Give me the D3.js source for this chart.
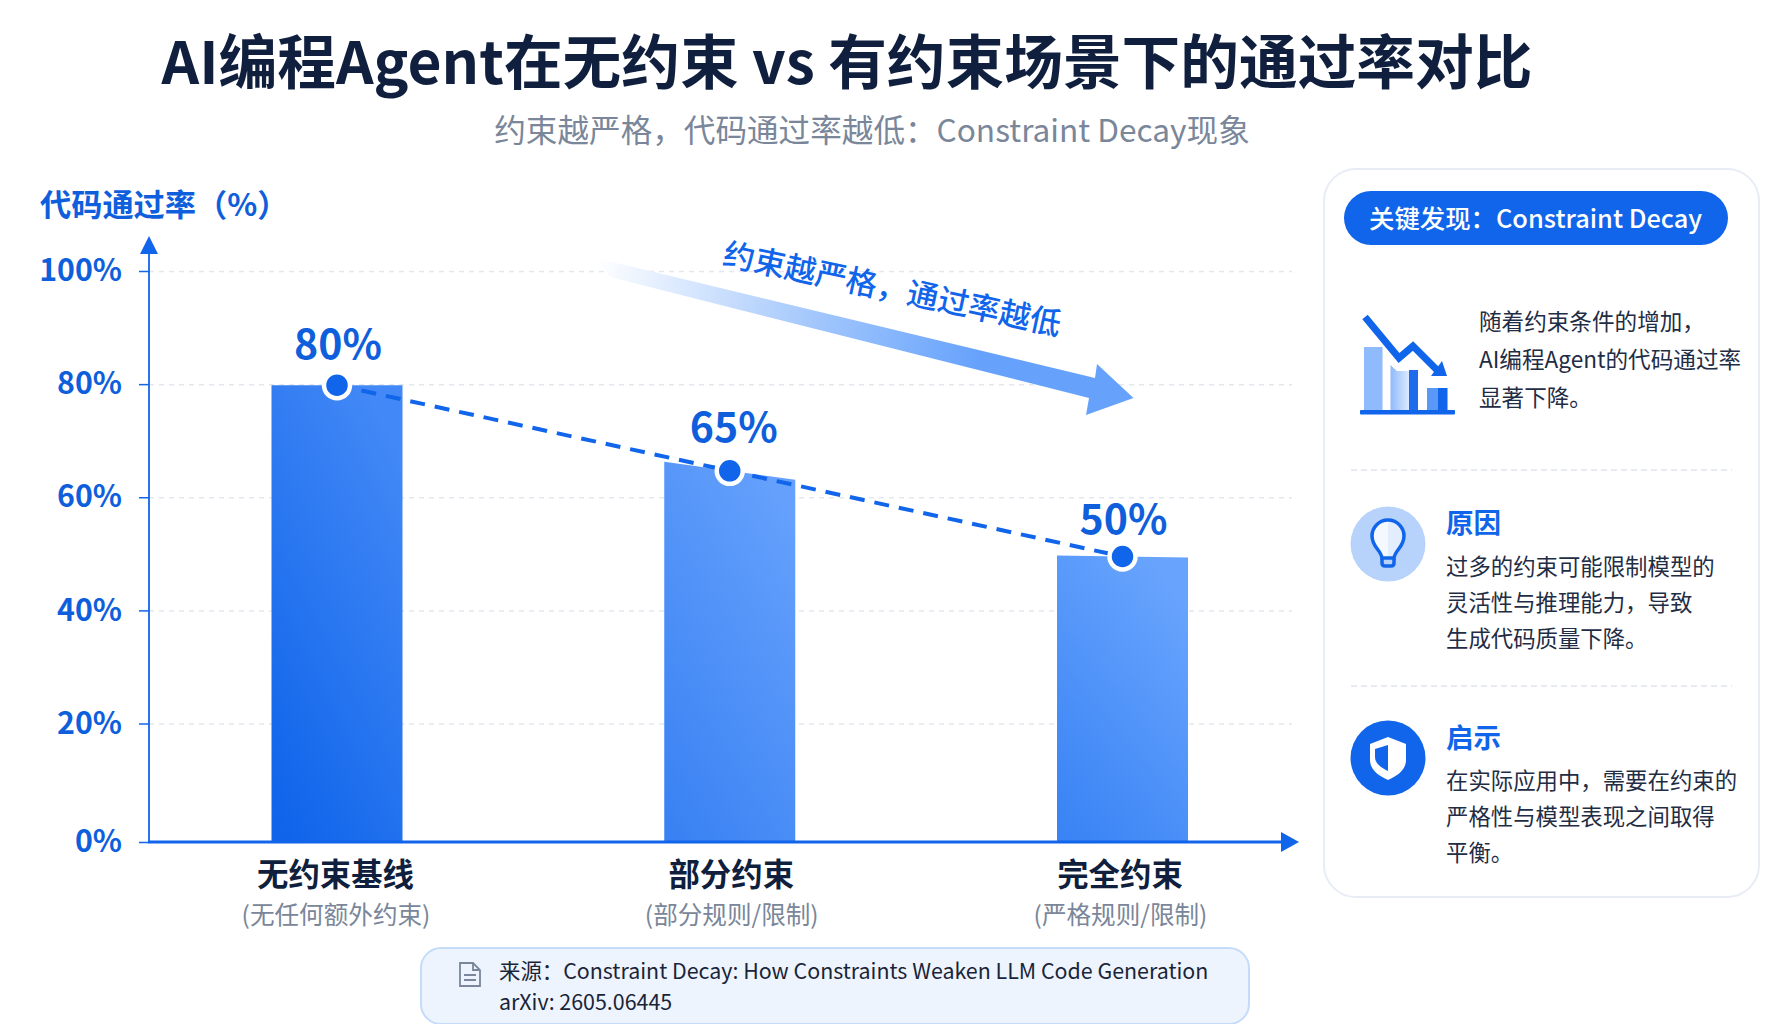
<!DOCTYPE html>
<html lang="zh">
<head>
<meta charset="utf-8">
<title>AI编程Agent通过率对比</title>
<script src="https://cdn.jsdelivr.net/npm/d3@7/dist/d3.min.js"></script>
<style>
  html, body { margin: 0; padding: 0; background: #fff; }
  svg { display: block; }
  text { font-family: "Noto Sans CJK SC", "Noto Sans", sans-serif; }
</style>
</head>
<body>
<svg id="chart" width="1792" height="1024"></svg>
<script>
// Chart data
const categories = ["无约束基线", "部分约束", "完全约束"];
const categoryNotes = ["(无任何额外约束)", "(部分规则/限制)", "(严格规则/限制)"];
const passRates = [80, 65, 50];
const yTicks = [0, 20, 40, 60, 80, 100];

// Copy
const titleText = "AI编程Agent在无约束 vs 有约束场景下的通过率对比";
const subtitleText = "约束越严格，代码通过率越低：Constraint Decay现象";
const yAxisTitle = "代码通过率（%）";
const trendText = "约束越严格，通过率越低";
const panelHeader = "关键发现：Constraint Decay";
const findingLines = ["随着约束条件的增加，", "AI编程Agent的代码通过率", "显著下降。"];
const causeHeading = "原因";
const causeLines = ["过多的约束可能限制模型的", "灵活性与推理能力，导致", "生成代码质量下降。"];
const adviceHeading = "启示";
const adviceLines = ["在实际应用中，需要在约束的", "严格性与模型表现之间取得", "平衡。"];
const sourceLines = ["来源：Constraint Decay: How Constraints Weaken LLM Code Generation", "arXiv: 2605.06445"];

// Palette
const BLUE = "#1065ea", BLUE_TEXT = "#0f5fdc", NAVY = "#0f1f3d", GREY = "#7a8699", BODY = "#1f2d45";

const svg = d3.select("#chart");
const defs = svg.append("defs");

// Bar fills run from a stronger foot to a lighter head; the fill weakens with each step.
const barStops = [["#0f64ea", "#4288f6"], ["#3a82f3", "#64a0fc"], ["#3a84f5", "#68a4fd"]];
barStops.forEach((pair, i) => {
  const g = defs.append("linearGradient").attr("id", `bar${i}`)
    .attr("x1", 0.15).attr("y1", 1).attr("x2", 0.7).attr("y2", 0);
  g.append("stop").attr("offset", 0).attr("stop-color", pair[0]);
  g.append("stop").attr("offset", 1).attr("stop-color", pair[1]);
});
const trendGrad = defs.append("linearGradient").attr("id", "trendFill")
  .attr("gradientUnits", "userSpaceOnUse")
  .attr("x1", 596).attr("y1", 262).attr("x2", 980).attr("y2", 355);
trendGrad.append("stop").attr("offset", 0).attr("stop-color", "#ffffff");
trendGrad.append("stop").attr("offset", 0.55).attr("stop-color", "#a6c9fc");
trendGrad.append("stop").attr("offset", 1).attr("stop-color", "#66a2fc");
const iconGrad = defs.append("linearGradient").attr("id", "iconBar");
iconGrad.append("stop").attr("offset", 0).attr("stop-color", "#8fbafc");
iconGrad.append("stop").attr("offset", 1).attr("stop-color", "#dceafe");

// Scales: value scale for the marks, and an axis scale whose lowest band is a little taller
const plotLeft = 149, plotRight = 1292, baseY = 842, topY = 271, barWidth = 131;
const x = d3.scalePoint().domain(categories).range([337, 1122.5]);
const y = d3.scaleLinear().domain([0, 100]).range([baseY, topY]);
const axisY = d3.scaleLinear().domain([0, 20, 100]).range([baseY, 723.5, topY]);

// Headings
svg.append("text").attr("x", 847).attr("y", 84).attr("text-anchor", "middle")
  .attr("font-size", 58.7).attr("font-weight", 700).attr("fill", NAVY).text(titleText);
svg.append("text").attr("x", 872).attr("y", 142).attr("text-anchor", "middle")
  .attr("font-size", 31.6).attr("font-weight", 400).attr("fill", GREY).text(subtitleText);
svg.append("text").attr("x", 40).attr("y", 216)
  .attr("font-size", 31.2).attr("font-weight", 700).attr("fill", BLUE_TEXT).text(yAxisTitle);

// Horizontal grid
const grid = svg.append("g").attr("transform", `translate(${plotLeft},0)`)
  .call(d3.axisRight(axisY).tickValues(yTicks.filter(v => v > 0)).tickSize(plotRight - plotLeft).tickFormat(""));
grid.select(".domain").remove();
grid.selectAll("line").attr("stroke", "#e3e7ee").attr("stroke-width", 1.5).attr("stroke-dasharray", "5 5");

// Bars; the head of each bar sits slightly off level
const topTilt = [0, 18, 2];
svg.append("g").selectAll("path").data(passRates).join("path")
  .attr("fill", (d, i) => `url(#bar${i})`)
  .attr("d", (d, i) => {
    const c = x(categories[i]), t = y(d), h = topTilt[i] / 2;
    return `M${c - barWidth / 2},${baseY}V${t - h}L${c + barWidth / 2},${t + h}V${baseY}Z`;
  });

// Y axis with arrowhead
const yAxis = svg.append("g").attr("transform", `translate(${plotLeft},0)`)
  .call(d3.axisLeft(axisY).tickValues(yTicks).tickSize(10).tickPadding(17).tickFormat(d => `${d}%`));
yAxis.select(".domain").remove();
yAxis.selectAll("line").attr("stroke", BLUE).attr("stroke-width", 1.5);
yAxis.selectAll("text").attr("font-size", 30.3).attr("font-weight", 600).attr("fill", BLUE_TEXT)
  .style("font-family", '"Noto Sans CJK SC", sans-serif');
svg.append("line").attr("x1", plotLeft).attr("x2", plotLeft).attr("y1", baseY).attr("y2", 250)
  .attr("stroke", BLUE).attr("stroke-width", 1.8);
svg.append("path").attr("d", "M149,236L158,254H140Z").attr("fill", BLUE);

// X axis with arrowhead and two-line category labels
const xAxis = svg.append("g").attr("transform", `translate(0,${baseY})`)
  .call(d3.axisBottom(x).tickSize(0).tickPadding(21.5));
xAxis.select(".domain").remove();
const labelNudge = [-2, 1, -3];
xAxis.selectAll("text").attr("font-size", 31.4).attr("font-weight", 700).attr("fill", NAVY)
  .attr("dx", (d, i) => labelNudge[i])
  .style("font-family", '"Noto Sans CJK SC", sans-serif');
svg.append("line").attr("x1", plotLeft - 1).attr("x2", 1284).attr("y1", baseY).attr("y2", baseY)
  .attr("stroke", BLUE).attr("stroke-width", 3);
svg.append("path").attr("d", "M1299,842L1281,832V852Z").attr("fill", BLUE);
svg.append("g").selectAll("text").data(categoryNotes).join("text")
  .attr("x", (d, i) => x(categories[i]) + labelNudge[i] + 1).attr("y", 924)
  .attr("text-anchor", "middle").attr("font-size", 24.6).attr("fill", GREY).text(d => d);

// Dashed trend line through the bar heads, with markers and value labels
const trendLine = d3.line().x((d, i) => x(categories[i])).y(d => y(d));
svg.append("path").attr("d", trendLine(passRates)).attr("fill", "none")
  .attr("stroke", BLUE).attr("stroke-width", 4).attr("stroke-dasharray", "15 10");
svg.append("g").selectAll("circle").data(passRates).join("circle")
  .attr("cx", (d, i) => x(categories[i])).attr("cy", d => y(d)).attr("r", 13)
  .attr("fill", BLUE).attr("stroke", "#fff").attr("stroke-width", 4.5);
const labelLift = [26, 29, 23];
const labelShift = [1, 4, 1];
svg.append("g").selectAll("text").data(passRates).join("text")
  .attr("x", (d, i) => x(categories[i]) + labelShift[i]).attr("y", (d, i) => y(d) - labelLift[i])
  .attr("text-anchor", "middle").attr("font-size", 41).attr("font-weight", 700)
  .attr("fill", BLUE_TEXT).text(d => `${d}%`);

// Decorative downward arrow with its caption
svg.append("path")
  .attr("d", "M596,258L1095,378L1097,364L1133.5,398L1086,415L1089,398L610,277Z")
  .attr("fill", "url(#trendFill)");
svg.append("text").attr("transform", "translate(890,300) rotate(12)")
  .attr("text-anchor", "middle").attr("font-size", 31.3).attr("font-weight", 500)
  .attr("fill", BLUE).text(trendText);

// Side panel
svg.append("rect").attr("x", 1324).attr("y", 169).attr("width", 435).attr("height", 728).attr("rx", 32)
  .attr("fill", "#fff").attr("stroke", "#e7ecf5").attr("stroke-width", 2);
svg.append("rect").attr("x", 1344).attr("y", 191).attr("width", 384).attr("height", 54).attr("rx", 27)
  .attr("fill", BLUE);
svg.append("text").attr("x", 1369).attr("y", 228).attr("font-size", 25.4).attr("font-weight", 500)
  .attr("fill", "#fff").text(panelHeader);

function textBlock(lines, xPos, baselines, size) {
  svg.append("g").selectAll("text").data(lines).join("text")
    .attr("x", xPos).attr("y", (d, i) => baselines[i])
    .attr("font-size", size).attr("fill", BODY).text(d => d);
}
textBlock(findingLines, 1479, [330, 368, 406], 22.6);
textBlock(causeLines, 1446, [575, 611, 647], 22.4);
textBlock(adviceLines, 1446, [789, 825, 861], 22.4);

[[causeHeading, 533], [adviceHeading, 748]].forEach(([t, b]) => {
  svg.append("text").attr("x", 1446).attr("y", b).attr("font-size", 27.5).attr("font-weight", 700)
    .attr("fill", BLUE).text(t);
});
[470, 686].forEach(v => {
  svg.append("line").attr("x1", 1351).attr("x2", 1732).attr("y1", v).attr("y2", v)
    .attr("stroke", "#dfe4ee").attr("stroke-width", 1.5).attr("stroke-dasharray", "6 4");
});

// Falling-bars icon
const icon = svg.append("g");
icon.append("rect").attr("x", 1364).attr("y", 347).attr("width", 18.5).attr("height", 64).attr("fill", "#8fbafc");
icon.append("path").attr("d", "M1390.5,365L1397,371H1409V411H1390.5Z").attr("fill", "url(#iconBar)");
icon.append("rect").attr("x", 1409).attr("y", 370).attr("width", 9).attr("height", 41).attr("fill", "#1e6cec");
icon.append("rect").attr("x", 1427).attr("y", 388).attr("width", 11).attr("height", 23).attr("fill", "#5a98f8");
icon.append("rect").attr("x", 1438).attr("y", 388).attr("width", 9.5).attr("height", 23).attr("fill", BLUE);
icon.append("rect").attr("x", 1360).attr("y", 410).attr("width", 95).attr("height", 4.5).attr("rx", 1).attr("fill", BLUE);
icon.append("path").attr("d", "M1365,317L1399,358L1413,346L1438,371").attr("fill", "none")
  .attr("stroke", BLUE).attr("stroke-width", 7);
icon.append("path").attr("d", "M1442,361L1447,376L1431,376Z").attr("fill", BLUE);

// Light-bulb badge
const bulb = svg.append("g");
bulb.append("circle").attr("cx", 1388).attr("cy", 544).attr("r", 37.5).attr("fill", "#b8d3fb");
const bulbOutline = "M1382,558C1381,550 1372,547 1372,536A16,16 0 0 1 1404,536C1404,547 1395,550 1394,558Z";
bulb.append("path").attr("d", bulbOutline).attr("fill", "#f4f8ff");
bulb.append("path").attr("d", "M1388,520A16,16 0 0 1 1404,536C1404,547 1395,550 1394,558H1388Z").attr("fill", "#e2edfd");
bulb.append("path").attr("d", bulbOutline).attr("fill", "none").attr("stroke", BLUE).attr("stroke-width", 3.5);
bulb.append("path").attr("d", "M1382,558V563Q1382,566 1385,566H1391Q1394,566 1394,563V558")
  .attr("fill", "none").attr("stroke", BLUE).attr("stroke-width", 3.5);

// Shield badge
const shield = svg.append("g");
shield.append("circle").attr("cx", 1388).attr("cy", 758).attr("r", 37.5).attr("fill", BLUE);
shield.append("path").attr("d", "M1388,737L1406,744V760C1406,770 1397,776 1388,780C1379,776 1370,770 1370,760V744Z").attr("fill", "#fff");
shield.append("path").attr("d", "M1388,745V771C1382,768 1375,764 1375,757V749Z").attr("fill", BLUE);

// Source box
svg.append("rect").attr("x", 421).attr("y", 948).attr("width", 828).attr("height", 76).attr("rx", 20)
  .attr("fill", "#edf4fe").attr("stroke", "#c5dbfa").attr("stroke-width", 2);
const doc = svg.append("g").attr("fill", "none").attr("stroke", GREY).attr("stroke-width", 1.8);
doc.append("path").attr("d", "M460,963H473L480,970V986H460Z");
doc.append("path").attr("d", "M473,963V970H480M464,975H476M464,980H476");
svg.append("g").selectAll("text").data(sourceLines).join("text")
  .attr("x", 499).attr("y", (d, i) => [979, 1010][i])
  .attr("font-size", 21.4).attr("fill", "#1a2438").text(d => d);
</script>
</body>
</html>
